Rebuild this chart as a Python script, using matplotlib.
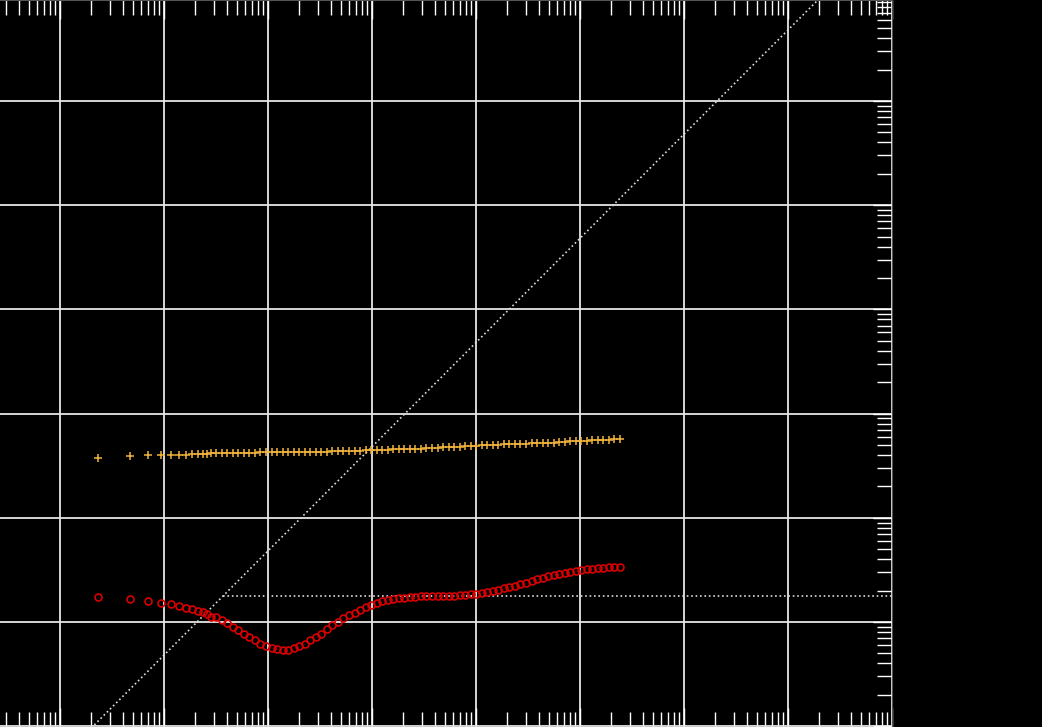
import matplotlib
matplotlib.use("Agg")
import matplotlib.pyplot as plt

# sample positions (x) shared by both series
x_vals = [2.35, 4.7, 7.05, 9.4, 11.75, 14.1, 16.45, 18.8, 21.15, 23.5, 25.85, 28.2,
          31.9, 36.0, 40.7, 46.0, 52.0, 58.8, 66.4, 75.1, 84.8, 95.9,
          108.4, 122.5, 138.5, 156.5, 176.9, 200.0, 226.0, 255.4, 288.7, 326.3,
          368.8, 416.9, 471.1, 532.5, 601.9, 680.3, 768.9, 869.0, 982.2, 1110,
          1255, 1418, 1603, 1812, 2048, 2315, 2617, 2957, 3342, 3777,
          4269, 4826, 5454, 6165, 6968, 7875, 8901, 10060, 11370, 12850,
          14530, 16420, 18560, 20980, 23710, 26800, 30290, 34230, 38690, 43730,
          49430, 55870, 63140, 71370, 80670, 91170, 103000, 116500, 131700, 148800,
          168200, 190100, 214800, 242800]

# upper series (yellow crosses)
upper_vals = [37.8, 38.9, 39.7, 39.8, 40.1, 40.4, 40.4, 40.5, 40.6, 40.8, 41.0, 41.5,
              41.9, 42.0, 42.0, 42.1, 42.2, 42.2, 42.3, 42.3, 42.4, 42.5,
              42.6, 42.6, 42.7, 42.8, 42.8, 42.8, 42.9, 43.0, 43.0, 43.0,
              43.1, 43.3, 43.5, 43.6, 43.8, 44.0, 44.2, 44.4, 44.6, 44.8,
              44.9, 45.1, 45.3, 45.5, 45.6, 45.8, 46.0, 46.1, 46.4, 46.8,
              47.1, 47.3, 47.6, 47.9, 48.2, 48.4, 48.8, 49.1, 49.4, 49.7,
              50.0, 50.3, 50.6, 50.9, 51.2, 51.3, 51.6, 51.7, 51.9, 52.2,
              52.4, 52.7, 53.2, 53.7, 54.2, 54.5, 54.8, 55.1, 55.4, 55.8,
              56.0, 56.2, 56.4, 56.6]

# lower series (red circles)
lower_vals = [1.728, 1.653, 1.592, 1.513, 1.480, 1.425, 1.354, 1.325, 1.284, 1.240, 1.186, 1.124,
              1.105, 1.045, 0.978, 0.895, 0.829, 0.767, 0.710, 0.664, 0.621, 0.588,
              0.562, 0.546, 0.538, 0.544, 0.562, 0.588, 0.621, 0.664, 0.718, 0.775,
              0.847, 0.926, 1.007, 1.080, 1.155, 1.221, 1.304, 1.379, 1.457, 1.523,
              1.574, 1.620, 1.656, 1.690, 1.717, 1.740, 1.755, 1.767, 1.774, 1.778,
              1.778, 1.782, 1.786, 1.794, 1.806, 1.818, 1.838, 1.858, 1.900, 1.943,
              1.987, 2.040, 2.100, 2.161, 2.219, 2.294, 2.371, 2.462, 2.562, 2.649,
              2.738, 2.830, 2.908, 2.979, 3.039, 3.094, 3.142, 3.191, 3.233, 3.269,
              3.306, 3.335, 3.357, 3.380]

# reference lines: slope-one line and a flat floor
slope_factor = 0.048
floor_level = 1.778

x_min, x_max = 0.2655, 1e8
y_min, y_max = 10 ** -1.008, 10 ** 5.969

fig = plt.figure(figsize=(10.42, 7.27), dpi=100, facecolor="black")
ax = fig.add_axes([0, 0, 892 / 1042, 1])
ax.set_facecolor("black")
ax.set_xscale("log")
ax.set_yscale("log")
ax.set_xlim(x_min, x_max)
ax.set_ylim(y_min, y_max)

ax.grid(True, which="major", color="#e6e6e6", linewidth=1.3)
ax.set_axisbelow(True)

# slope-one dotted line across the plot
ax.plot([x_min, x_max], [x_min * slope_factor, x_max * slope_factor],
        linestyle=":", color="#dddddd", linewidth=1.2)
# floor from where it meets the slope line to the right edge
x_meet = floor_level / slope_factor
ax.plot([x_meet, x_max], [floor_level, floor_level],
        linestyle=":", color="#dddddd", linewidth=1.2)

ax.plot(x_vals, upper_vals, linestyle="none", marker="+", markersize=5.5,
        markeredgewidth=1.1, color="#f2b33d")
ax.plot(x_vals, lower_vals, linestyle="none", marker="o", markersize=5,
        markerfacecolor="none", markeredgewidth=1.2, markeredgecolor="#d80000")

ax.tick_params(which="both", direction="in", colors="white",
               top=True, right=True, left=False,
               labelbottom=False, labelleft=False)
ax.tick_params(which="minor", length=11, width=1)
ax.tick_params(which="major", length=14, width=1)
for side in ax.spines.values():
    side.set_color("#555555")
ax.spines["left"].set_visible(False)

fig.savefig("out.png", dpi=100, facecolor="black")
